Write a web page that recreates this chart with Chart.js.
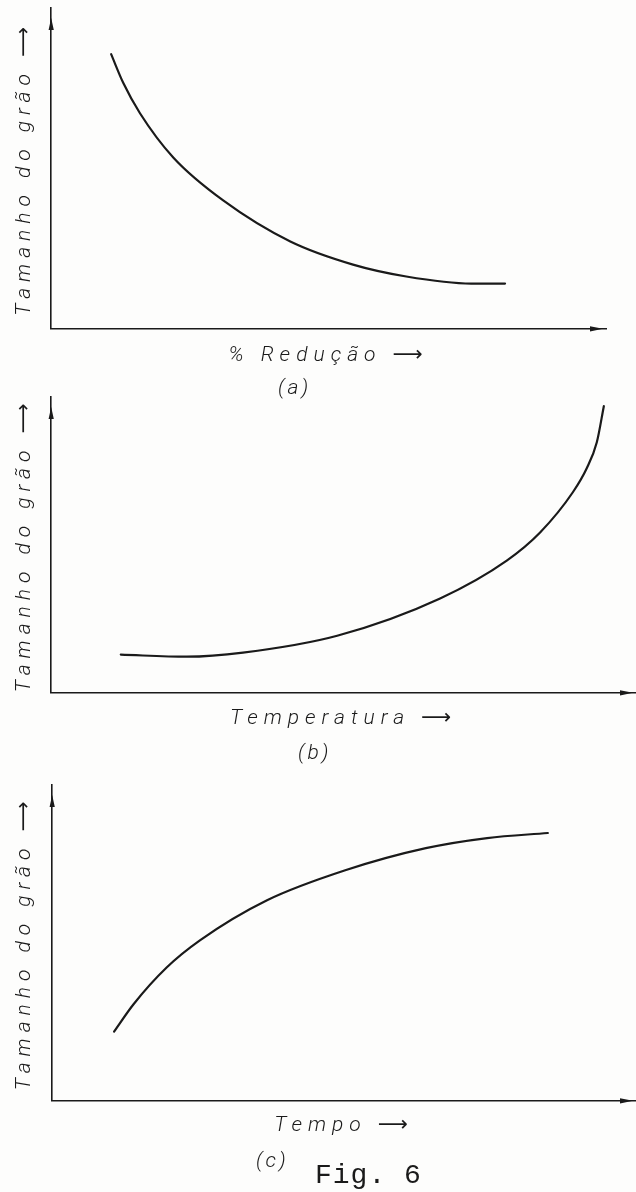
<!DOCTYPE html>
<html lang="pt">
<head>
<meta charset="utf-8">
<title>Fig. 6 — Tamanho do grão</title>
<script src="https://cdn.jsdelivr.net/npm/chart.js@4.4.1/dist/chart.umd.min.js"></script>
<style>
  html, body { margin: 0; padding: 0; background: #fdfdfc; }
  body { width: 636px; height: 1192px; position: relative; overflow: hidden; }
  .panel { position: absolute; left: 0; width: 636px; }
  .panel canvas { display: block; }
  .tag {
    position: absolute; font-family: Roboto, 'DejaVu Sans', sans-serif;
    font-style: italic; font-weight: 300; font-size: 21px; color: #1a1a1a;
    line-height: 1; white-space: nowrap; letter-spacing: 3px;
  }
  .fig {
    position: absolute; font-family: 'Liberation Mono', 'DejaVu Sans Mono', monospace;
    font-size: 28px; color: #1a1a1a; line-height: 1; white-space: nowrap;
    letter-spacing: 1px;
  }
</style>
</head>
<body>
<div class="panel" id="pa" style="top:0;height:380px"><canvas id="ca"></canvas></div>
<div class="panel" id="pb" style="top:380px;height:390px"><canvas id="cb"></canvas></div>
<div class="panel" id="pc" style="top:770px;height:422px"><canvas id="cc"></canvas></div>
<div class="tag" style="left:278px;top:377px">(a)</div>
<div class="tag" style="left:298px;top:742px">(b)</div>
<div class="tag" style="left:256px;top:1150px">(c)</div>
<div class="fig" style="left:315px;top:1162px">Fig. 6</div>

<script>
// Grain size curves, in relative units (0–100 along each axis).
const yTitle = 'Tamanho do grão ⟶';

// (a) grain size vs. % reduction
const reducaoX = [10.8, 13.0, 16.0, 22.0, 31.0, 43.1, 54.4, 64.0, 75.7, 81.8];
const reducaoY = [85.6, 76.6, 67.2, 53.4, 40.0, 27.2, 20.0, 16.3, 14.1, 14.1];

// (b) grain size vs. temperature
const temperaturaX = [11.9, 23.2, 32.8, 48.9, 66.5, 77.9, 83.6, 89.2, 91.6, 93.3, 94.5];
const temperaturaY = [12.9, 12.2, 13.6, 19.3, 31.9, 44.7, 54.2, 67.8, 76.0, 84.7, 96.9];

// (c) grain size vs. time
const tempoX = [10.6, 13.9, 19.6, 25.3, 36.8, 50.2, 64.0, 74.5, 84.9];
const tempoY = [21.9, 30.5, 42.2, 50.8, 63.5, 73.0, 80.0, 83.2, 84.8];

const ink = '#1a1a1a';
const labelFont = { family: "Roboto, 'DejaVu Sans', sans-serif", size: 21, style: 'italic', weight: '300', lineHeight: 1.2 };

// Wide hand-lettered spacing for the axis titles
const lettering = {
  id: 'lettering',
  beforeDraw(chart) { chart.ctx.letterSpacing = '6px'; }
};

// Arrowheads on the ends of both axes
const axisArrows = {
  id: 'axisArrows',
  afterDraw(chart) {
    const { ctx, chartArea: a } = chart;
    ctx.save();
    ctx.fillStyle = ink;
    // vertical axis
    ctx.beginPath();
    ctx.moveTo(a.left, a.top + 10);
    ctx.lineTo(a.left - 2.6, a.top + 22);
    ctx.lineTo(a.left + 2.6, a.top + 22);
    ctx.closePath();
    ctx.fill();
    // horizontal axis
    ctx.beginPath();
    ctx.moveTo(a.right - 3, a.bottom);
    ctx.lineTo(a.right - 16, a.bottom - 2.6);
    ctx.lineTo(a.right - 16, a.bottom + 2.6);
    ctx.closePath();
    ctx.fill();
    ctx.restore();
  }
};

function toPoints(xs, ys) {
  return xs.map((x, i) => ({ x, y: ys[i] }));
}

function makePanel(canvasId, xs, ys, xTitle, pad) {
  return new Chart(document.getElementById(canvasId), {
    type: 'scatter',
    data: {
      datasets: [{
        data: toPoints(xs, ys),
        showLine: true,
        borderColor: ink,
        borderWidth: 2.2,
        borderCapStyle: 'round',
        pointRadius: 0,
        pointHoverRadius: 0,
        cubicInterpolationMode: 'monotone',
        fill: false
      }]
    },
    options: {
      responsive: true,
      maintainAspectRatio: false,
      animation: false,
      events: [],
      layout: { padding: pad.layout },
      plugins: { legend: { display: false }, tooltip: { enabled: false } },
      scales: {
        x: {
          type: 'linear', min: 0, max: 100,
          grid: { display: false, drawTicks: false },
          border: { display: true, color: ink, width: 1.6 },
          ticks: { display: false },
          title: { display: true, text: xTitle, color: ink, font: labelFont,
                   padding: { top: pad.xTitleTop, bottom: 0 } }
        },
        y: {
          type: 'linear', min: 0, max: 100,
          grid: { display: false, drawTicks: false },
          border: { display: true, color: ink, width: 1.6 },
          ticks: { display: false },
          title: { display: true, text: yTitle, color: ink, font: labelFont,
                   padding: { top: 12, bottom: pad.yTitleBottom } }
        }
      }
    },
    plugins: [lettering, axisArrows]
  });
}

makePanel('ca', reducaoX, reducaoY, '% Redução ⟶',
  { layout: { top: 8, left: 0, right: 30, bottom: 12 }, xTitleTop: 14, yTitleBottom: 14 });
makePanel('cb', temperaturaX, temperaturaY, 'Temperatura ⟶',
  { layout: { top: 17, left: 0, right: 0, bottom: 39 }, xTitleTop: 13, yTitleBottom: 14 });
makePanel('cc', tempoX, tempoY, 'Tempo ⟶',
  { layout: { top: 15, left: 0, right: 0, bottom: 54 }, xTitleTop: 12, yTitleBottom: 15 });
</script>
</body>
</html>
